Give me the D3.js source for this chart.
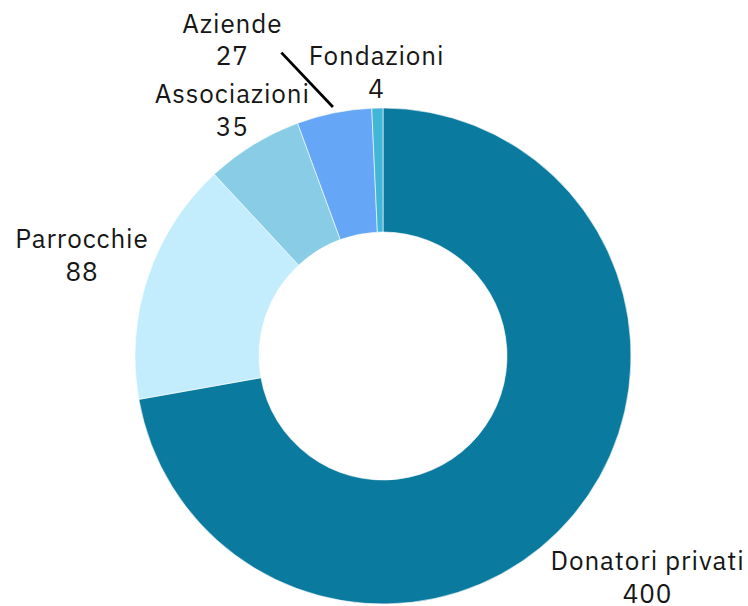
<!DOCTYPE html>
<html>
<head>
<meta charset="utf-8">
<script src="https://cdn.jsdelivr.net/npm/d3@7"></script>
<style>
  html, body { margin: 0; padding: 0; background: #fff; }
  svg { display: block; }
</style>
</head>
<body>
<svg id="chart" width="748" height="606"></svg>
<script>
// Donations by source
const categories = ["Donatori privati", "Parrocchie", "Associazioni", "Aziende", "Fondazioni"];
const values = [400, 88, 35, 27, 4];
const colors = ["#0a7a9f", "#c3edfc", "#88cde5", "#66a6f6", "#41b6d7"];

const width = 748, height = 606;
const cx = 383, cy = 356;
const outerR = 248, innerR = 124;
const fontSize = 26, letterSpacing = 0.9, lineStep = 32.7, capH = 18, labelPad = 10;
const fontFamily = "'IBM Plex Sans', 'Noto Sans', sans-serif";

const svg = d3.select("#chart");
const data = categories.map((name, i) => ({ name, value: values[i], color: colors[i] }));

// Clockwise from 12 o'clock, in data order
const pie = d3.pie().sort(null).value(d => d.value);
const arcs = pie(data);
const arc = d3.arc().innerRadius(innerR).outerRadius(outerR);

const g = svg.append("g").attr("transform", `translate(${cx},${cy})`);

g.selectAll("path.slice")
  .data(arcs)
  .join("path")
  .attr("class", "slice")
  .attr("d", arc)
  .attr("fill", d => d.data.color)
  .attr("stroke", "#fff")
  .attr("stroke-width", 0.6);

// ---- outside labels ----
const labelLayer = g.append("g");
const lineLayer = g.insert("g", () => labelLayer.node());

const labels = arcs.map(d => {
  const text = labelLayer.append("text")
    .attr("text-anchor", "middle")
    .attr("font-family", fontFamily)
    .attr("font-size", fontSize)
    .attr("letter-spacing", letterSpacing)
    .attr("fill", "#161616");
  const t1 = text.append("tspan").text(d.data.name);
  const t2 = text.append("tspan").text(d3.format(",")(d.data.value));
  return {
    d, text, tspans: [t1, t2],
    widths: [t1.node().getComputedTextLength(), t2.node().getComputedTextLength()],
    mid: (d.startAngle + d.endAngle) / 2
  };
});

// distance from the pie centre to the nearest point of a box
function boxDist(x0, x1, y0, y1) {
  const dx = x0 > 0 ? x0 : (x1 < 0 ? x1 : 0);
  const dy = y0 > 0 ? y0 : (y1 < 0 ? y1 : 0);
  return Math.hypot(dx, dy);
}

function lineBoxes(L) {
  return L.widths.map((w, i) => {
    const b = L.b1 + i * lineStep;
    return { x0: L.x - w / 2, x1: L.x + w / 2, y0: b - capH, y1: b };
  });
}

function fullBox(L) {
  const w = Math.max(...L.widths);
  return { x0: L.x - w / 2, x1: L.x + w / 2, y0: L.b1 - capH, y1: L.b1 + lineStep };
}

// push each label out along its slice's mid-angle until every line clears the ring
labels.forEach(L => {
  const ux = Math.sin(L.mid), uy = -Math.cos(L.mid);
  for (let r = outerR; r < outerR + 300; r += 0.25) {
    L.x = ux * r;
    L.b1 = uy * r - (lineStep - capH) / 2;
    const ok = lineBoxes(L).every(b => boxDist(b.x0, b.x1, b.y0, b.y1) >= outerR + labelPad);
    if (ok) break;
  }
});

// resolve overlaps in drawing order: a label that hits an earlier one
// is lifted above its preceding neighbour
const tol = 4;
const overlap = (a, b) =>
  a.x0 + tol < b.x1 && b.x0 + tol < a.x1 && a.y0 + tol < b.y1 && b.y0 + tol < a.y1;
labels.forEach((L, i) => {
  const hit = labels.slice(0, i).some(o => overlap(fullBox(L), fullBox(o)));
  if (hit) {
    const prev = labels[i - 1];
    L.x = prev.x;
    L.b1 = prev.b1 - 2 * lineStep - 5;
    L.moved = true;
  }
});

labels.forEach(L => {
  L.tspans.forEach((t, i) => t.attr("x", L.x).attr("y", L.b1 + i * lineStep));
  if (L.moved) {
    const box = fullBox(L);
    const r0 = outerR + 6;
    lineLayer.append("line")
      .attr("x1", Math.sin(L.mid) * r0)
      .attr("y1", -Math.cos(L.mid) * r0)
      .attr("x2", box.x1 - 1)
      .attr("y2", box.y1 - 0.7 * capH)
      .attr("stroke", "#000")
      .attr("stroke-width", 2.8);
  }
});
</script>
</body>
</html>
